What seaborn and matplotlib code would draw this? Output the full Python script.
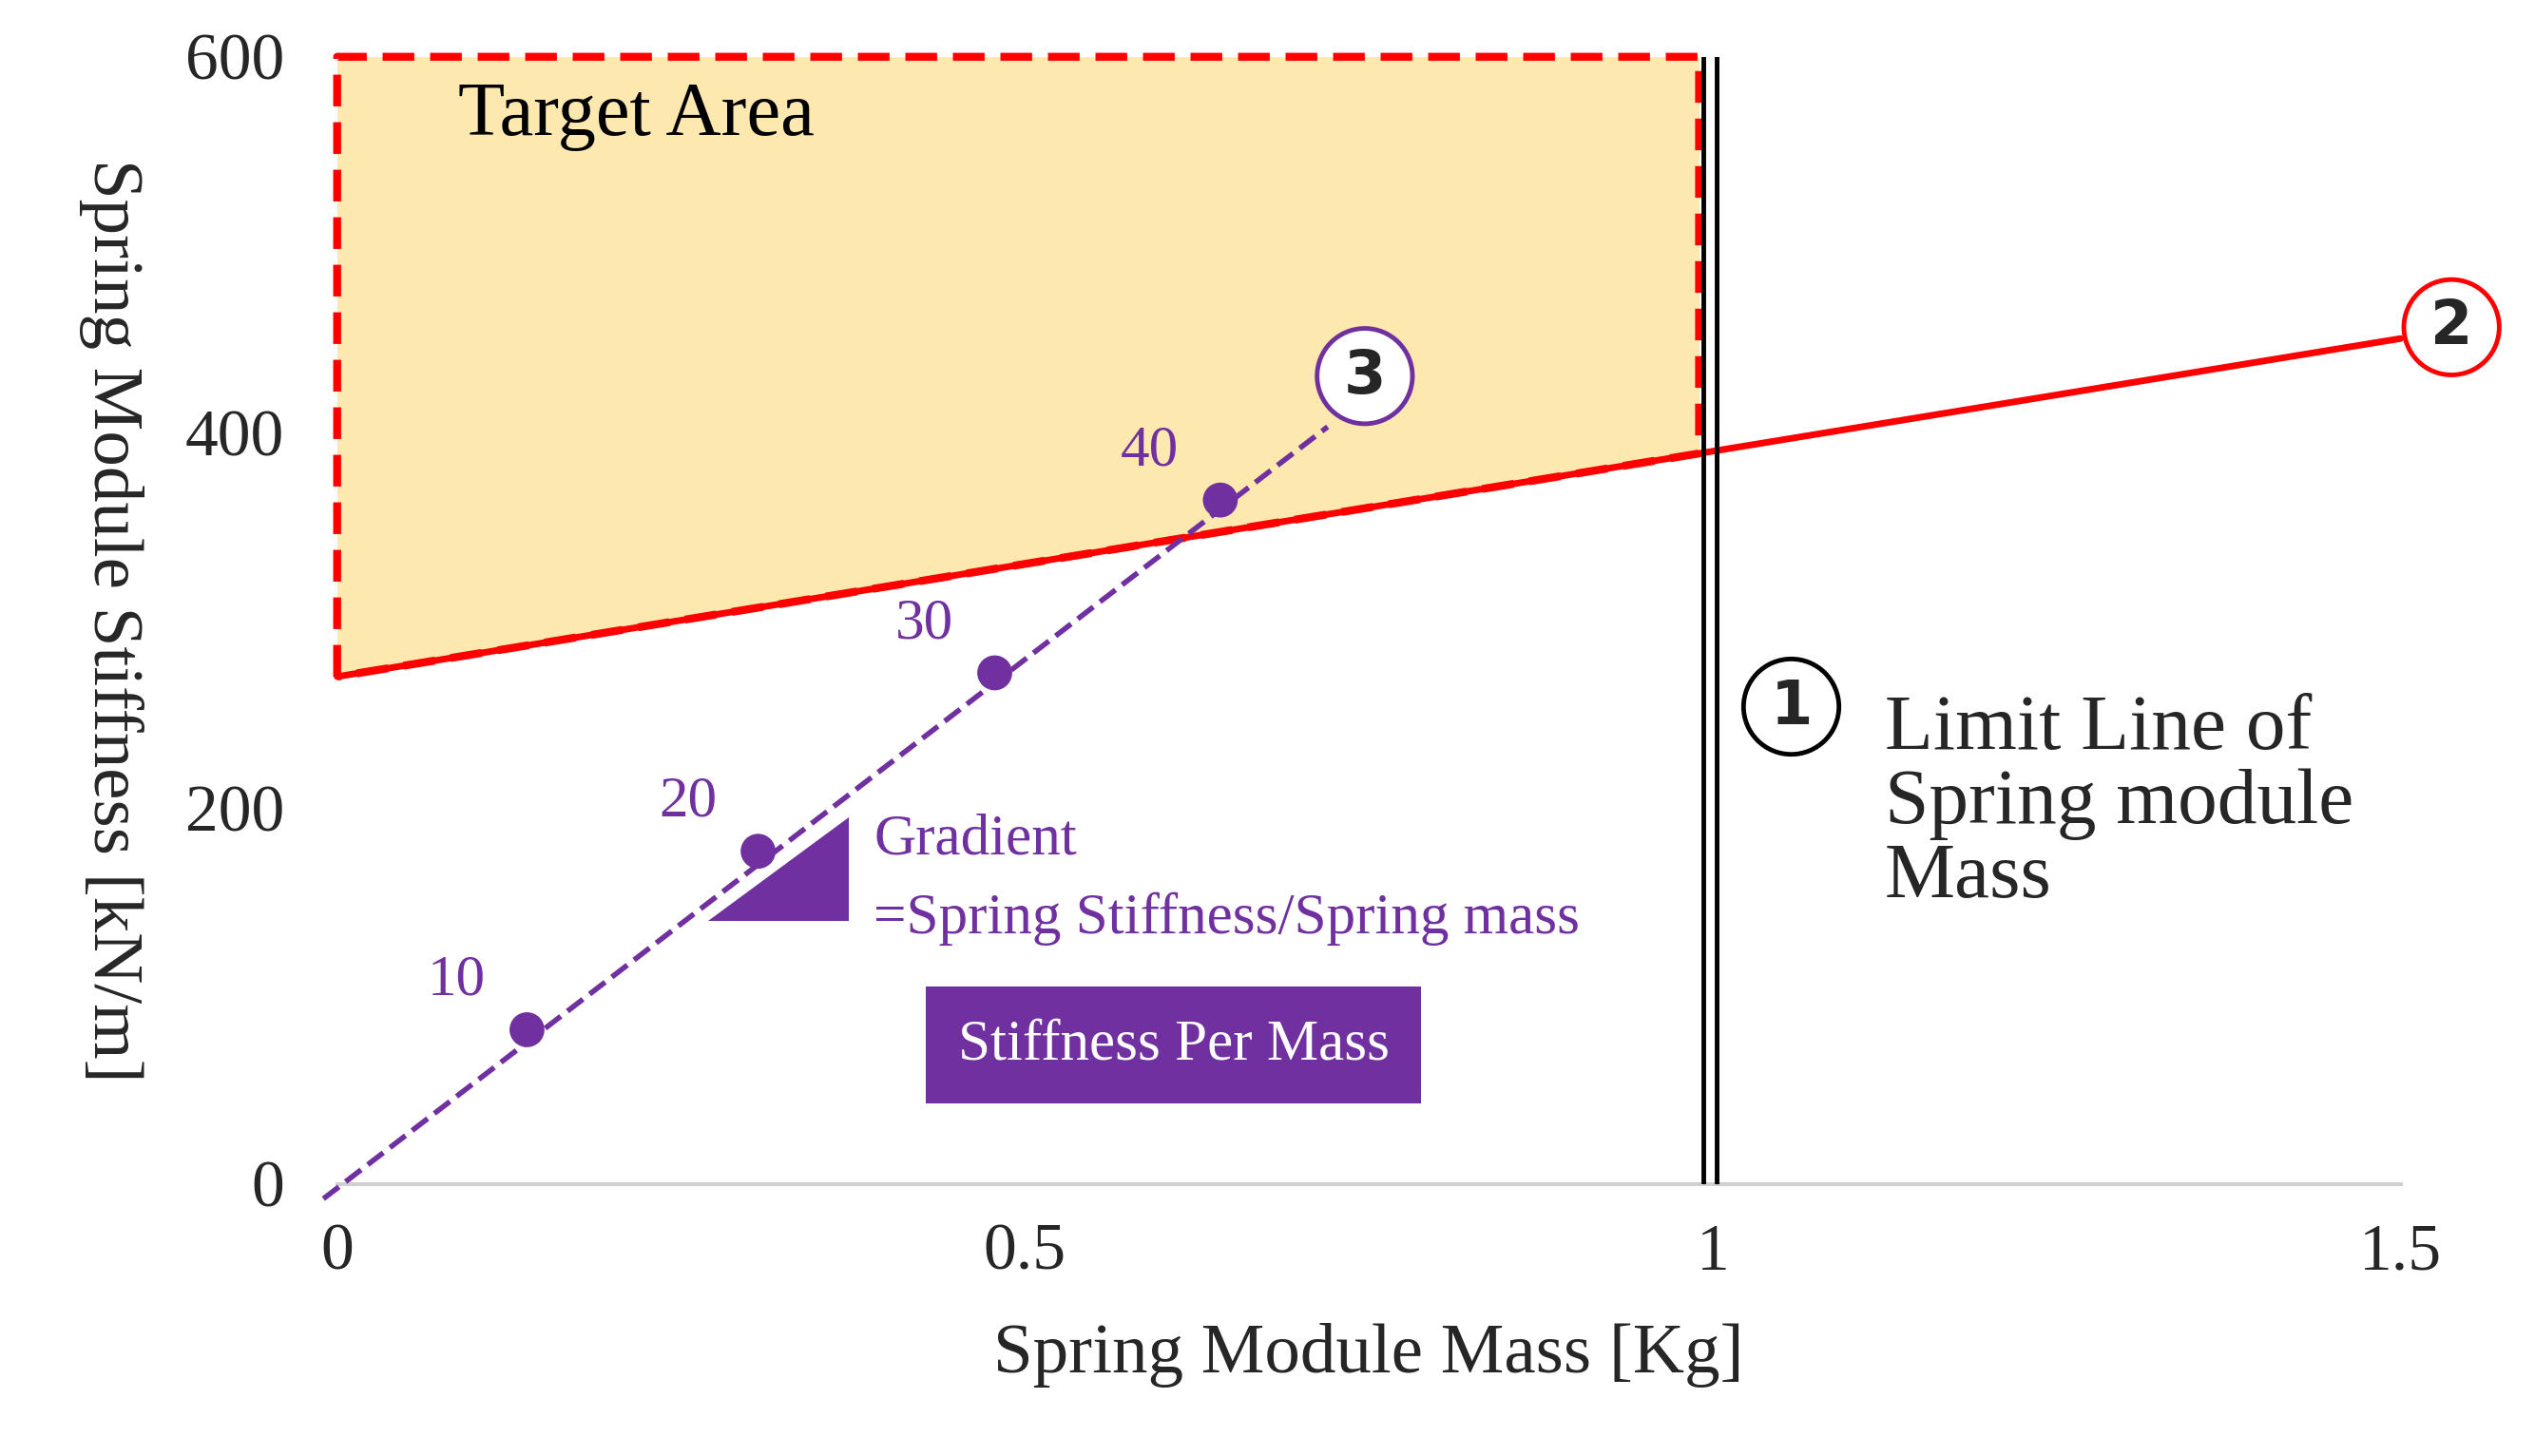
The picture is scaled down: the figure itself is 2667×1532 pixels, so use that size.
import matplotlib
matplotlib.use("Agg")
import matplotlib.pyplot as plt
import seaborn as sns
import numpy as np
import pandas as pd
from matplotlib.patches import Polygon

sns.set_theme(style="white")
plt.rcParams['font.family'] = ['Liberation Serif', 'DejaVu Serif']

# data
spm_mass = [0.138, 0.306, 0.478, 0.642]
spm_stiff = [82, 177, 272, 364]
spm_labels = ["10", "20", "30", "40"]
trend_x = [-0.01, 0.72]
trend_y = [-8, 403]
red_x = [0, 1.5]
red_y = [270, 450]
limit_mass = 0.998
x_ticks = [0, 0.5, 1, 1.5]
x_ticklabels = ["0", "0.5", "1", "1.5"]
y_ticks = [0, 200, 400, 600]

purple = "#7030A0"
red = "#FF0000"

fig = plt.figure(figsize=(26.67, 15.32), dpi=100)
ax = fig.add_axes([0.133, 0.187, 0.814, 0.774])
ax.set_xlim(0, 1.5)
ax.set_ylim(0, 600)

def red_at(x):
    return red_y[0] + (red_y[1]-red_y[0])*(x-red_x[0])/(red_x[1]-red_x[0])

xr = 0.99
poly = Polygon([[0, red_at(0)], [0, 600], [xr, 600], [xr, red_at(xr)]], closed=True,
               facecolor="#FDE9B0", edgecolor="none", zorder=1)
ax.add_patch(poly)
ax.plot([0, 0, xr, xr, 0], [red_at(0), 600, 600, red_at(xr), red_at(0)], color=red,
        ls=(0, (4, 2)), lw=6, zorder=3, clip_on=False)

sns.lineplot(x=red_x, y=red_y, ax=ax, color=red, lw=5, zorder=4)
ax.lines[-1].set_clip_on(False)

ax.axvline(limit_mass - 0.005, color="black", lw=3.5, zorder=5)
ax.axvline(limit_mass + 0.005, color="black", lw=3.5, zorder=5)

sns.lineplot(x=trend_x, y=trend_y, ax=ax, color=purple, lw=4, ls="--", zorder=6)
ax.lines[-1].set_clip_on(False)
sns.scatterplot(x=spm_mass, y=spm_stiff, ax=ax, color=purple, s=700, zorder=7, edgecolor="none")
for x, y, t in zip(spm_mass, spm_stiff, spm_labels):
    ax.text(x - 0.03, y + 12, t, color=purple, fontsize=44, ha="right", va="bottom", zorder=8)

ax.add_patch(Polygon([[0.27, 140], [0.372, 140], [0.372, 195]], closed=True, facecolor=purple, edgecolor="none", zorder=6))
ax.text(0.39, 183, "Gradient", color=purple, fontsize=44, va="center")
ax.text(0.39, 141, "=Spring Stiffness/Spring mass", color=purple, fontsize=44, va="center")
ax.text(0.608, 74, "Stiffness Per Mass", color="white", fontsize=44, ha="center", va="center",
        bbox=dict(boxstyle="square,pad=0.55", facecolor=purple, edgecolor="none"), zorder=9)

ax.text(0.088, 568, "Target Area", fontsize=58, va="center", color="black", zorder=9)

ax.text(1.125, 202, "Limit Line of\nSpring module\nMass", fontsize=60, va="center", ha="left", linespacing=1.05)

def circ(x, y, t, ec):
    ax.text(x, y, t, fontsize=46, fontweight="bold", family="DejaVu Sans", ha="center", va="center",
            zorder=10, clip_on=False,
            bbox=dict(boxstyle="circle,pad=0.3", facecolor="white", edgecolor=ec, lw=3.5))

circ(1.057, 254, "1", "black")
circ(1.537, 456, "2", red)
circ(0.747, 430, "3", purple)

ax.set_xticks(x_ticks)
ax.set_xticklabels(x_ticklabels)
ax.set_yticks(y_ticks)
ax.tick_params(labelsize=50, length=0)
ax.tick_params(axis="x", pad=30)
ax.tick_params(axis="y", pad=40)
for s in ["top", "right", "left"]:
    ax.spines[s].set_visible(False)
ax.spines["bottom"].set_color("#D0D0D0")
ax.spines["bottom"].set_linewidth(3)
ax.set_xlabel("Spring Module Mass [Kg]", fontsize=54, labelpad=30)
ax.set_ylabel("Spring Module Stiffness [kN/m]", fontsize=54, rotation=270)
ax.yaxis.set_label_coords(-0.125, 0.5)

fig.savefig("out.png", dpi=100)
